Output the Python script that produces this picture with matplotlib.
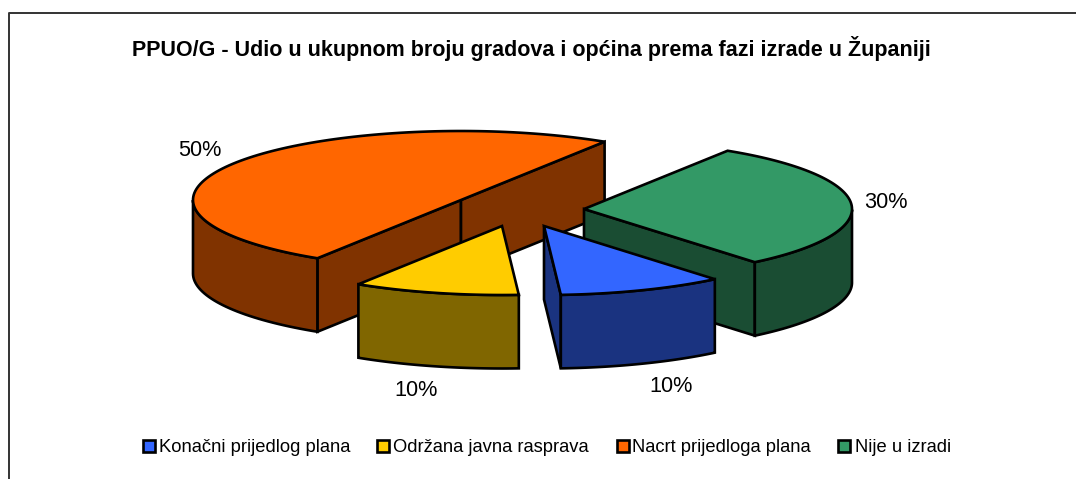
import numpy as np
import matplotlib
matplotlib.use('Agg')
import matplotlib.pyplot as plt
from matplotlib.patches import Polygon, Rectangle

plt.rcParams['font.family'] = ['Liberation Sans', 'DejaVu Sans']

title = "PPUO/G - Udio u ukupnom broju gradova i općina prema fazi izrade u Županiji"
labels = ['Konačni prijedlog plana', 'Održana javna rasprava', 'Nacrt prijedloga plana', 'Nije u izradi']
shares = [10, 10, 50, 30]
top_colors = ['#3366FF', '#FFCC00', '#FF6600', '#339966']
side_colors = ['#1A3380', '#806600', '#803300', '#1A4D33']

# pixel layout of the slices
apex = [(544, 226), (502, 226), (461, 200), (584, 209)]
pct_pos = [(671, 387), (416, 390), (200, 151), (886, 202)]
legend_box_x = [143, 377, 617, 838]
legend_text_x = [159, 393, 632, 855]
rx, ry, depth = 268, 69, 73.5
start = -50.4  # angle where the first slice starts, clockwise from there
draw_order = [2, 3, 1, 0]

fig = plt.figure(figsize=(10.76, 4.79), dpi=100)
ax = fig.add_axes([0, 0, 1, 1])
ax.set_xlim(0, 1076)
ax.set_ylim(479, 0)
ax.axis('off')

# frame, only top and left are inside the crop
ax.plot([8.5, 8.5, 1076], [479, 13, 13], color='#333333', lw=1.4)

ax.text(531.5, 48, title, fontsize=15.5, fontweight='bold', ha='center', va='center')

edges = np.cumsum([0] + shares) * 3.6
lw = 1.9


def face(points, color):
    ax.add_patch(Polygon(points, closed=True, fc=color, ec='black', lw=lw, joinstyle='miter'))


for i in draw_order:
    cx, cy = apex[i]
    t0 = start - edges[i]
    t1 = start - edges[i + 1]
    t = np.radians(np.linspace(t0, t1, 120))
    x = cx + rx * np.cos(t)
    y = cy - ry * np.sin(t)

    # cut faces facing the viewer
    for px, py in [(x[0], y[0]), (x[-1], y[-1])]:
        inner = (np.cos(np.radians((t0 + t1) / 2)), -np.sin(np.radians((t0 + t1) / 2)))
        normal = (py - cy, -(px - cx))
        if normal[0] * inner[0] + normal[1] * inner[1] > 0:
            normal = (-normal[0], -normal[1])
        if normal[1] > 0:
            face([(cx, cy), (px, py), (px, py + depth), (cx, cy + depth)], side_colors[i])

    # outer wall, only the front half of the ellipse
    front = np.sin(t) <= 0
    if front.any():
        fx, fy = x[front], y[front]
        face(np.r_[np.c_[fx, fy], np.c_[fx, fy + depth][::-1]], side_colors[i])

    # top
    face(np.r_[[(cx, cy)], np.c_[x, y]], top_colors[i])

for i, share in enumerate(shares):
    ax.text(pct_pos[i][0], pct_pos[i][1], f'{share}%', fontsize=15.6, ha='center', va='center')
    ax.add_patch(Rectangle((legend_box_x[i], 440), 12, 12, fc=top_colors[i], ec='black', lw=1.9))
    ax.text(legend_text_x[i], 447, labels[i], fontsize=13.2, ha='left', va='center')

fig.savefig('out.png', dpi=100)
